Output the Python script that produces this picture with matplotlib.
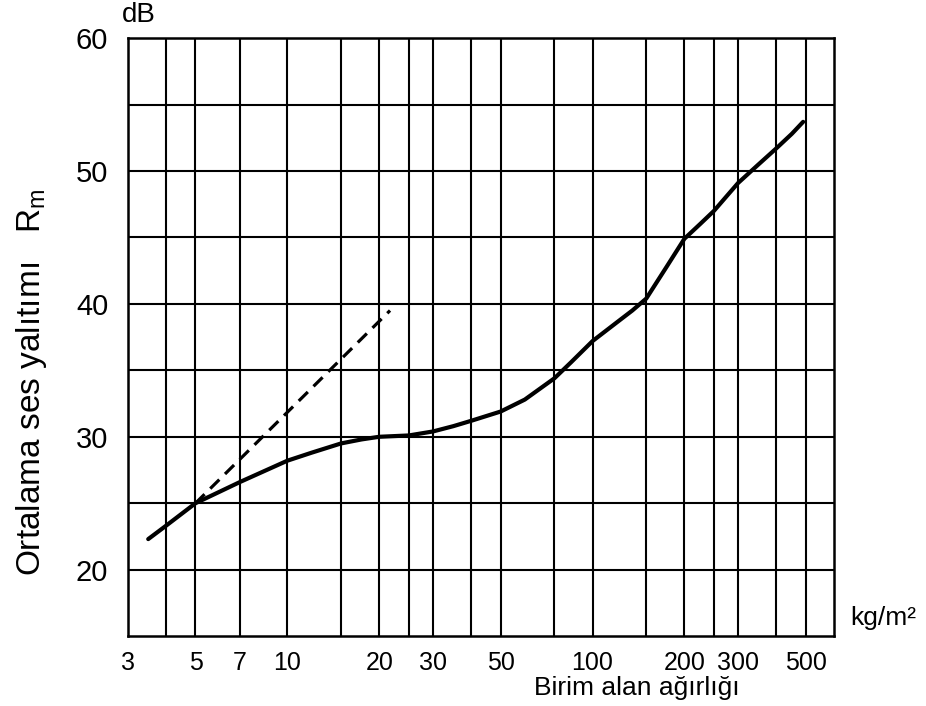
import matplotlib
matplotlib.use("Agg")
import matplotlib.pyplot as plt

plt.rcParams['font.family'] = ['Liberation Sans', 'DejaVu Sans']
plt.rcParams['mathtext.fontset'] = 'custom'
plt.rcParams['mathtext.rm'] = 'Liberation Sans'
plt.rcParams['mathtext.it'] = 'Liberation Sans'

# Main curve: unit-area mass (kg/m²) vs mean sound insulation (dB)
mass = [3.5, 4, 5, 7, 10, 12, 15, 17.5, 20, 25, 30, 35, 40, 50, 60, 75, 85, 100,
        120, 135, 150, 175, 200, 225, 250, 275, 300, 350, 400, 450, 490]
r_m = [22.3, 23.3, 25.0, 26.6, 28.2, 28.8, 29.5, 29.8, 30.0, 30.1, 30.4, 30.8, 31.2, 31.9, 32.8,
       34.4, 35.6, 37.2, 38.6, 39.5, 40.4, 42.8, 44.9, 46.0, 47.0, 48.1, 49.1, 50.5, 51.7, 52.8, 53.7]

# Dashed reference line
dash_mass = [5, 21.7]
dash_r = [25.0, 39.5]

# Grid and ticks
x_grid = [4, 5, 7, 10, 15, 20, 25, 30, 40, 50, 75, 100, 150, 200, 250, 300, 400, 500]
x_ticks = [3, 5, 7, 10, 20, 30, 50, 100, 200, 300, 500]
x_ticklabels = ['3', '5', '7', '10', '20', '30', '50', '100', '200', '300', '500']
y_grid = [20, 25, 30, 35, 40, 45, 50, 55]
y_ticks = [20, 30, 40, 50, 60]

fig = plt.figure(figsize=(9.26, 7.06), dpi=100)
ax = fig.add_axes([0.138, 0.099, 0.763, 0.847])
ax.set_xscale('log')
ax.set_xlim(3, 620)
ax.set_ylim(15, 60)

for xv in x_grid:
    ax.axvline(xv, color='black', lw=1.5, zorder=1)
for yv in y_grid:
    ax.axhline(yv, color='black', lw=1.5, zorder=1)

ax.plot(mass, r_m, color='black', lw=3.0, solid_capstyle='round', solid_joinstyle='round', zorder=3)
ax.plot(dash_mass, dash_r, color='black', lw=2.3, linestyle=(0, (4, 2.5)), zorder=3)

ax.set_xticks(x_ticks)
ax.set_xticklabels(x_ticklabels)
ax.xaxis.set_minor_locator(matplotlib.ticker.NullLocator())
ax.set_yticks(y_ticks)
ax.tick_params(axis='both', length=0)
ax.tick_params(axis='x', pad=11, labelsize=18)
ax.tick_params(axis='y', pad=14, labelsize=21)
for s in ax.spines.values():
    s.set_linewidth(1.8)

fig.text(122 / 926, 1 - 15 / 706, 'dB', fontsize=20, ha='left', va='center')
fig.text(850 / 926, 1 - 618 / 706, 'kg/m²', fontsize=19, ha='left', va='center')
fig.text(637 / 926, 1 - 688 / 706, 'Birim alan ağırlığı', fontsize=19, ha='center', va='center')
fig.text(32 / 926, 1 - 382 / 706, 'Ortalama ses yalıtımı   R$_{\\mathrm{m}}$', fontsize=24,
         rotation=90, ha='center', va='center')

fig.savefig('out.png', dpi=100)
